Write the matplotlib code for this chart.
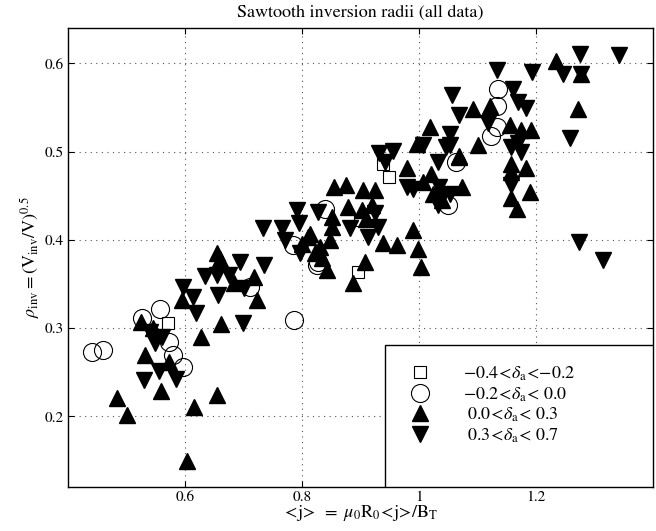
import matplotlib
matplotlib.use("Agg")
import matplotlib.pyplot as plt
from matplotlib.patches import Rectangle

plt.rcParams['font.family'] = ['STIXGeneral', 'DejaVu Serif']
plt.rcParams['mathtext.fontset'] = 'stix'

# delta_a in (-0.4, -0.2)
sq_x = [0.571, 0.900, 0.896, 0.939, 0.949]
sq_y = [0.306, 0.422, 0.364, 0.486, 0.471]

# delta_a in (-0.2, 0.0)
ci_x = [0.440, 0.459, 0.597, 0.579, 0.573, 0.557, 0.526, 0.786, 0.711, 0.825,
        0.784, 0.828, 0.839, 1.050, 1.064, 1.124, 1.136, 1.133, 1.133]
ci_y = [0.273, 0.275, 0.256, 0.270, 0.284, 0.322, 0.312, 0.309, 0.347, 0.371,
        0.394, 0.375, 0.435, 0.439, 0.488, 0.518, 0.571, 0.552, 0.528]

# delta_a in (0.0, 0.3)
up_x = [0.483, 0.500, 0.603, 0.615, 0.655, 0.558, 0.573, 0.532, 0.524, 0.545,
        0.628, 0.661, 0.594, 0.654, 0.660, 0.683, 0.717, 0.723, 0.814, 0.822,
        0.811, 0.842, 0.848, 0.851, 0.852, 0.854, 0.876, 0.879, 0.902, 0.910,
        0.905, 0.925, 0.920, 0.939, 0.962, 0.908, 0.888, 0.990, 0.999, 1.003,
        0.979, 1.007, 1.021, 1.024, 1.040, 1.073, 1.068, 0.996, 1.101, 1.069,
        1.019, 1.093, 1.121, 1.155, 1.175, 1.192, 1.158, 1.157, 1.184, 1.158,
        1.167, 1.190, 1.235, 1.272, 1.278, 0.800, 0.830, 0.835]
up_y = [0.221, 0.202, 0.149, 0.211, 0.224, 0.229, 0.262, 0.270, 0.307, 0.300,
        0.290, 0.305, 0.332, 0.385, 0.378, 0.351, 0.358, 0.332, 0.407, 0.385,
        0.403, 0.366, 0.400, 0.426, 0.415, 0.460, 0.462, 0.437, 0.434, 0.424,
        0.456, 0.456, 0.440, 0.396, 0.394, 0.375, 0.351, 0.411, 0.390, 0.369,
        0.481, 0.466, 0.475, 0.452, 0.445, 0.460, 0.495, 0.509, 0.507, 0.494,
        0.528, 0.548, 0.552, 0.530, 0.524, 0.524, 0.486, 0.477, 0.482, 0.447,
        0.435, 0.454, 0.603, 0.548, 0.588, 0.395, 0.392, 0.380]

# delta_a in (0.3, 0.7)
dn_x = [0.529, 0.585, 0.556, 0.549, 0.540, 0.560, 0.699, 0.619, 0.613, 0.597,
        0.634, 0.654, 0.694, 0.735, 0.657, 0.700, 0.675, 0.734, 0.765, 0.794,
        0.771, 0.797, 0.791, 0.828, 0.882, 0.913, 0.931, 0.956, 0.942, 0.979,
        0.990, 1.033, 1.053, 1.033, 1.053, 1.053, 1.007, 1.133, 1.193, 1.247,
        1.275, 1.278, 1.342, 1.258, 1.274, 1.315, 1.056, 1.069, 1.161, 1.170,
        1.184, 1.118, 1.170, 1.175, 1.158, 1.158, 1.047, 1.035, 1.040, 0.925,
        0.930]
dn_y = [0.241, 0.242, 0.251, 0.283, 0.296, 0.290, 0.306, 0.317, 0.335, 0.347,
        0.359, 0.360, 0.375, 0.371, 0.338, 0.345, 0.360, 0.413, 0.413, 0.419,
        0.400, 0.385, 0.434, 0.432, 0.413, 0.403, 0.498, 0.501, 0.488, 0.460,
        0.458, 0.439, 0.452, 0.488, 0.520, 0.507, 0.507, 0.592, 0.590, 0.588,
        0.611, 0.588, 0.609, 0.515, 0.398, 0.377, 0.564, 0.541, 0.571, 0.556,
        0.550, 0.533, 0.510, 0.500, 0.505, 0.462, 0.505, 0.460, 0.450, 0.430,
        0.415]

labels = [r'$-0.4\!<\!\delta_{\rm a}\!<\!{-}0.2$',
          r'$-0.2\!<\!\delta_{\rm a}\!<\,0.0$',
          r'$\ 0.0\!<\!\delta_{\rm a}\!<\,0.3$',
          r'$\ 0.3\!<\!\delta_{\rm a}\!<\,0.7$']

fig = plt.figure(figsize=(6.56, 5.31), dpi=100)
ax = fig.add_axes([0.104, 0.083, 0.891, 0.864])

h1, = ax.plot(sq_x, sq_y, 's', ms=9, mfc='white', mec='black', mew=0.8, ls='none')
h2, = ax.plot(ci_x, ci_y, 'o', ms=13, mfc='none', mec='black', mew=0.8, ls='none')
h3, = ax.plot(up_x, up_y, '^', ms=11, color='black', ls='none')
h4, = ax.plot(dn_x, dn_y, 'v', ms=11, color='black', ls='none')

ax.set_xlim(0.4, 1.4)
ax.set_ylim(0.12, 0.64)
ax.set_xticks([0.6, 0.8, 1.0, 1.2])
ax.set_xticklabels(['0.6', '0.8', '1', '1.2'])
ax.set_yticks([0.2, 0.3, 0.4, 0.5, 0.6])
ax.set_yticklabels(['0.2', '0.3', '0.4', '0.5', '0.6'])
ax.tick_params(direction='in', top=True, right=True, labelsize=11, length=4,
               pad=3)
ax.grid(True, ls=(0, (1, 4)), color='#555555', lw=0.8)
for s in ax.spines.values():
    s.set_linewidth(1.0)

ax.set_title('Sawtooth inversion radii (all data)', fontsize=13, pad=8)
ax.set_xlabel(r'$<\!{\rm j}\!>\ =\ \mu_0{\rm R}_0\!<\!{\rm j}\!>\!/{\rm B}_{\rm T}$',
              fontsize=13, labelpad=-1)
ax.set_ylabel(r'$\rho_{\rm inv} = ({\rm V}_{\rm inv}/{\rm V})^{0.5}$', fontsize=13,
              labelpad=2)

# legend frame + entries
ax.add_patch(Rectangle((0.542, 0.0), 0.458, 0.309, transform=ax.transAxes,
                       facecolor='white', edgecolor='black', lw=1.0, zorder=5))
leg = ax.legend([h1, h2, h3, h4], labels, loc='upper left',
                bbox_to_anchor=(0.545, 0.31), frameon=False, fontsize=13,
                handletextpad=1.6, labelspacing=0.12, borderpad=0.6,
                handlelength=1.5)
leg.set_zorder(6)

fig.savefig('out.png', dpi=100)
